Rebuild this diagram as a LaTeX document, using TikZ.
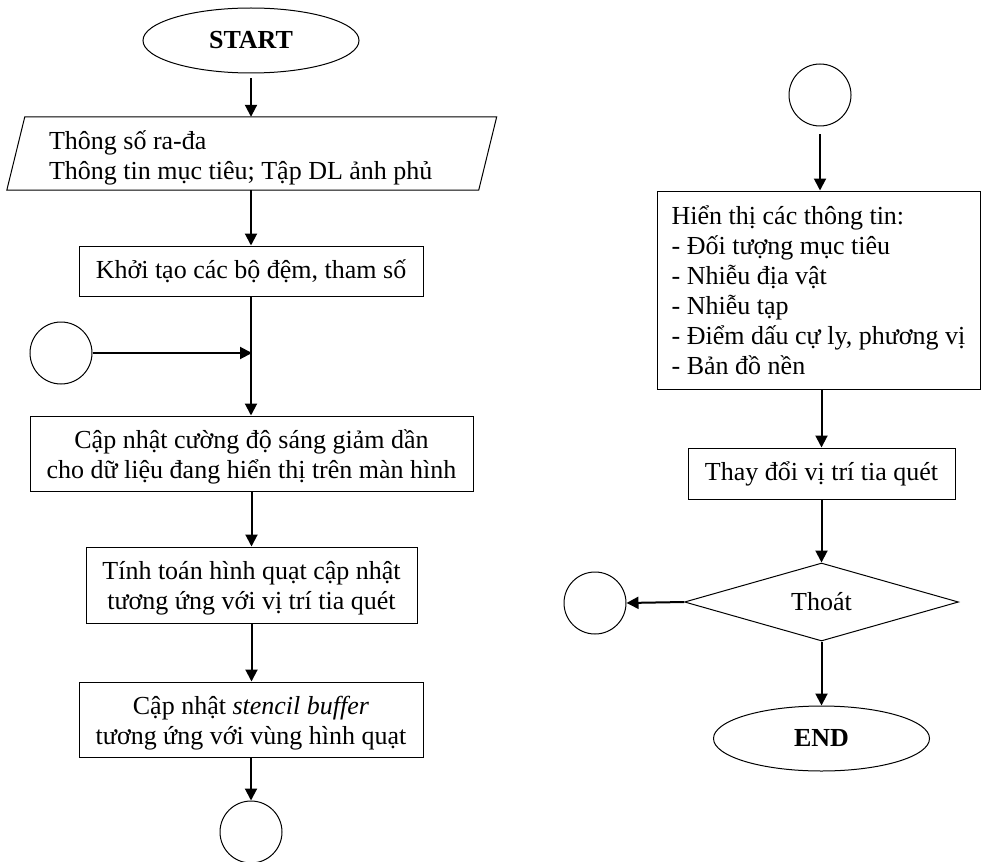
\documentclass[tikz,border=0pt]{standalone}
\usepackage{fontspec}
\setmainfont{Liberation Serif}
\usetikzlibrary{shapes.geometric,arrows.meta}
\newcommand{\toprule}[1]{\rule{0pt}{#1pt}}
\begin{document}
\begin{tikzpicture}[x=1pt,y=-1pt,
  font=\fontsize{26}{30}\selectfont,
  box/.style={draw,line width=1pt,rectangle,align=center,inner sep=0pt},
  term/.style={draw,line width=1pt,ellipse,inner sep=0pt,minimum width=216pt,minimum height=65pt,font=\fontsize{26}{30}\selectfont\bfseries},
  conn/.style={draw,line width=1pt,circle,inner sep=0pt,minimum size=62pt},
  arr/.style={line width=2pt,-{Triangle[length=12pt,width=12pt]}}]
\useasboundingbox (0,0) rectangle (981,861);
% left column
\node[term] (start) at (251,40.5) {START};
\node[inner sep=0pt,minimum width=471.5pt,minimum height=73pt,text width=405.5pt,align=flush left] (inp) at (251.75,153.5)
  {\toprule{27}Thông số ra-đa\\Thông tin mục tiêu; Tập DL ảnh phủ};
\draw[line width=1pt] ([xshift=9pt]inp.north west) -- ([xshift=9pt]inp.north east)
  -- ([xshift=-9pt]inp.south east) -- ([xshift=-9pt]inp.south west) -- cycle;
\node[box,minimum width=344pt,minimum height=50pt] (init) at (251,271) {Khởi tạo các bộ đệm, tham số};
\node[conn] (c1) at (61,353) {};
\coordinate (join) at (252,353);
\node[box,minimum width=443pt,minimum height=75pt] (upd) at (251.5,453.5)
  {\toprule{25}Cập nhật cường độ sáng giảm dần\\cho dữ liệu đang hiển thị trên màn hình};
\node[box,minimum width=331pt,minimum height=76pt] (calc) at (251.5,585)
  {\toprule{25.5}Tính toán hình quạt cập nhật\\tương ứng với vị trí tia quét};
\node[box,minimum width=344pt,minimum height=75pt] (sten) at (251,719.5)
  {\toprule{26.5}Cập nhật \textit{stencil buffer}\\tương ứng với vùng hình quạt};
\node[conn] (c2) at (251,832) {};
% right column
\node[conn] (c3) at (820,95) {};
\node[box,minimum width=323pt,minimum height=198pt,align=left] (show) at (818.5,290)
  {Hiển thị các thông tin:\\- Đối tượng mục tiêu\\- Nhiễu địa vật\\- Nhiễu tạp\\- Điểm dấu cự ly, phương vị\\- Bản đồ nền};
\node[box,minimum width=267pt,minimum height=51pt] (chg) at (821.5,473.5) {Thay đổi vị trí tia quét};
\node[draw,line width=1pt,diamond,inner sep=0pt,aspect=3.5,minimum width=274pt,minimum height=78pt] (dia) at (821.5,602) {Thoát};
\node[conn] (c4) at (595,603) {};
\node[term] (end) at (821.5,738.5) {END};
% connectors
\draw[arr] ([yshift=-5pt]start.south) -- (start.south |- inp.north);
\draw[arr] (start.south |- inp.south) -- (start.south |- init.north);
\draw[arr] (init.south) -- (init.south |- upd.north);
\draw[arr] (c1.east) -- (join);
\draw[arr] (upd.south) -- (calc.north);
\draw[arr] (calc.south) -- (calc.south |- sten.north);
\draw[arr] (sten.south) -- (sten.south |- c2.north);
\draw[arr] ([yshift=-8pt]c3.south) -- (c3.south |- show.north);
\draw[arr] (show.south -| chg.north) -- (chg.north);
\draw[arr] (chg.south) -- (dia.north);
\draw[arr] (dia.west) -- (c4.east);
\draw[arr] (dia.south) -- (end.north);
\end{tikzpicture}
\end{document}
